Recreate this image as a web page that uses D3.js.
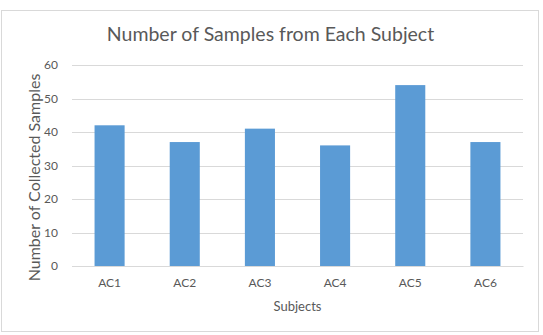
<!DOCTYPE html>
<html>
<head>
<meta charset="utf-8">
<script src="https://cdn.jsdelivr.net/npm/d3@7"></script>
<style>
  body { margin: 0; background: #fff; }
  text { font-family: Lato, "Open Sans", sans-serif; fill: #595959; }
</style>
</head>
<body>
<svg id="chart"></svg>
<script>
// chart data
const subjects = ["AC1", "AC2", "AC3", "AC4", "AC5", "AC6"];
const sampleCounts = [42, 37, 41, 36, 54, 37];
const yTicks = [0, 10, 20, 30, 40, 50, 60];

const dims = { width: 543, height: 335 };
const plot = { left: 72, right: 523, top: 65, bottom: 266 };

const svg = d3.select("#chart")
    .attr("width", dims.width)
    .attr("height", dims.height);

// outer chart border
svg.append("rect")
    .attr("x", 1.5).attr("y", 10.5)
    .attr("width", 537).attr("height", 321)
    .attr("fill", "#fff")
    .attr("stroke", "#d9d9d9");

const x = d3.scaleBand()
    .domain(subjects)
    .range([plot.left, plot.right])
    .paddingInner(0.6)
    .paddingOuter(0.3);

const y = d3.scaleLinear()
    .domain([0, 60])
    .range([plot.bottom, plot.top]);

// gridlines
svg.append("g")
    .selectAll("line")
    .data(yTicks)
    .enter()
    .append("line")
    .attr("x1", plot.left).attr("x2", plot.right)
    .attr("y1", d => Math.round(y(d)) + 0.5)
    .attr("y2", d => Math.round(y(d)) + 0.5)
    .attr("stroke", "#d9d9d9")
    .attr("stroke-width", 1);

// y tick labels
const yAxis = d3.axisLeft(y).tickValues(yTicks).tickSize(0).tickPadding(14);
const yg = svg.append("g")
    .attr("transform", `translate(${plot.left},0)`)
    .call(yAxis);
yg.select(".domain").remove();
yg.selectAll("text").style("font-size", "12px").attr("fill", "#595959");

// bars
svg.selectAll("rect.bar")
    .data(sampleCounts)
    .enter()
    .append("rect")
    .attr("class", "bar")
    .attr("x", (d, i) => x(subjects[i]))
    .attr("width", x.bandwidth())
    .attr("y", d => y(d))
    .attr("height", d => y(0) - y(d))
    .attr("fill", "#5b9bd5");

// x axis
const xAxis = d3.axisBottom(x).tickSize(0).tickPadding(12);
const xg = svg.append("g")
    .attr("transform", `translate(0,${plot.bottom})`)
    .call(xAxis);
xg.select(".domain").attr("stroke", "#d9d9d9");
xg.selectAll("text").style("font-size", "12px").attr("fill", "#595959");

// titles
svg.append("text")
    .attr("x", 270.5)
    .attr("y", 41)
    .attr("text-anchor", "middle")
    .style("font-size", "19.5px")
    .text("Number of Samples from Each Subject");

svg.append("text")
    .attr("x", (plot.left + plot.right) / 2)
    .attr("y", 311)
    .attr("text-anchor", "middle")
    .style("font-size", "13px")
    .text("Subjects");

svg.append("text")
    .attr("transform", "rotate(-90)")
    .attr("x", -177.5)
    .attr("y", 40)
    .attr("text-anchor", "middle")
    .style("font-size", "16px")
    .text("Number of Collected Samples");
</script>
</body>
</html>
